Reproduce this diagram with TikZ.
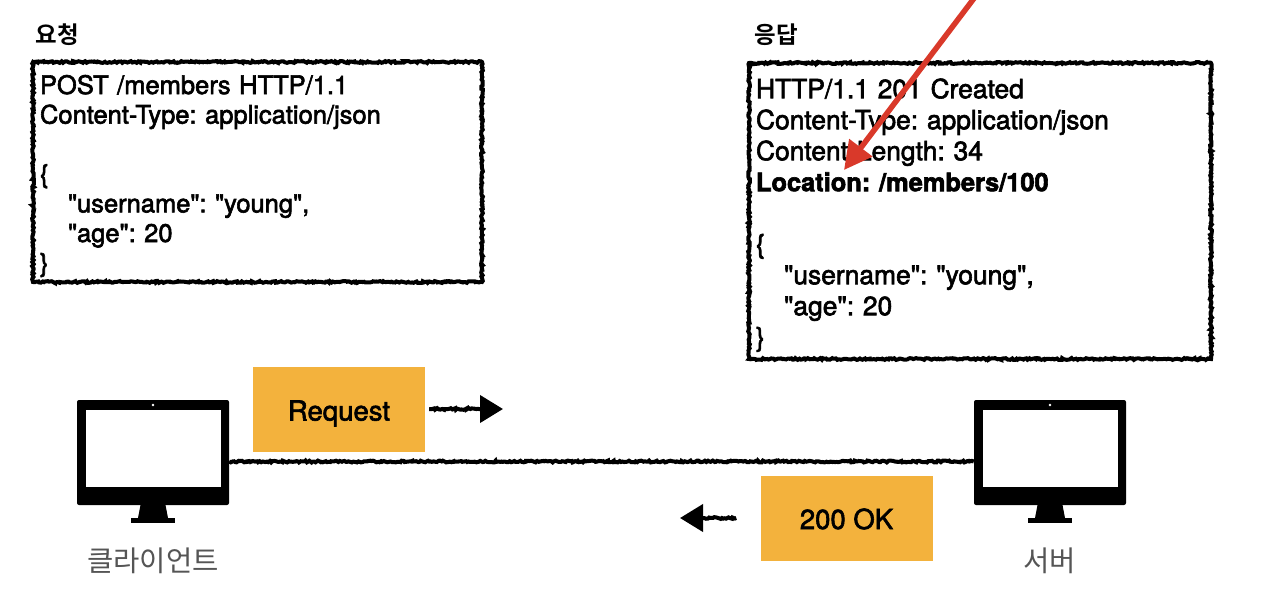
\documentclass[tikz,border=0pt]{standalone}
\usepackage{fontspec}
\usepackage{xcolor}
\newfontfamily\bodyfont{TeX Gyre Heros}
\newfontfamily\krfont{Noto Sans CJK KR}
\newfontfamily\krbold{Noto Sans CJK KR Bold}
\newfontfamily\boldfont{TeX Gyre Heros Bold}
\newcommand{\heavy}{\special{pdf:code 2 Tr 0.6 w}}
\usetikzlibrary{arrows.meta, positioning, decorations.pathmorphing}
\definecolor{msgorange}{HTML}{F3B23D}
\definecolor{arrowred}{HTML}{D9392A}
\definecolor{labelgray}{HTML}{555555}
\tikzset{
    rough/.style={decorate, decoration={random steps, segment length=1.6pt, amplitude=0.9pt}},
    httpbox/.style={rectangle, draw, rough, line width=4pt, anchor=north west, align=left, inner xsep=7pt, inner ysep=0pt},
    msgbox/.style={rectangle, fill=msgorange, minimum width=172pt, minimum height=85pt, text height=24pt, text depth=2pt, font=\fontsize{27.5}{30}\bodyfont},
    title/.style={anchor=west, font=\fontsize{23.5}{26}\krbold},
    devlabel/.style={text=labelgray, font=\fontsize{28.6}{30}\krfont},
    wire/.style={rough, line width=4pt},
    flowarrow/.style={-{Triangle[length=23pt, width=27pt]}, decorate, decoration={random steps, segment length=1.6pt, amplitude=0.9pt, post length=24pt}, line width=4pt},
    monitor/.pic={
        \node[fill=black, rounded corners=2pt, inner sep=0pt, minimum width=152pt, minimum height=105pt] (-body) at (0,0) {};
        \fill[white] (-67.5,-42.5) rectangle (67.5,34.5);
        \fill[white] (0,-47.5) circle (1.3pt);
        \fill[black] (-12.5,52.5) -- (12.5,52.5) -- (15,65.5) -- (-15,65.5) -- cycle;
        \fill[black] (-22,65.5) rectangle (22,70.5);
    },
}
\begin{document}
\begin{tikzpicture}[x=1pt, y=-1pt]
    \useasboundingbox (0,0) rectangle (1280,603);

    % request and response
    \node[httpbox, font=\fontsize{25.5}{29.6}\bodyfont\frenchspacing, text width=435pt, minimum height=220pt] (reqbox) at (31,60) {%
        \heavy\rule{0pt}{27pt}POST /members HTTP/1.1\\
        Content-Type: application/json\\
        \mbox{}\\
        \{\\
        \hspace*{28pt}"username": "young",\\
        \hspace*{28pt}"age": 20\\
        \}};
    \node[httpbox, font=\fontsize{26.4}{31}\bodyfont\frenchspacing, text width=448pt, minimum height=296pt] (resbox) at (747,61) {%
        \heavy\rule{0pt}{28pt}HTTP/1.1 201 Created\\
        Content-Type: application/json\\
        Content-Length: 34\\
        {\fontsize{25.4}{31}\boldfont Location: /members/100}\\
        \mbox{}\\
        \{\\
        \hspace*{28pt}"username": "young",\\
        \hspace*{28pt}"age": 20\\
        \}};

    \node[title] (reqtitle) at (32,35) {요청};
    \node[title] (restitle) at (751,35) {응답};

    % client and server
    \pic (client) at (153,452.5) {monitor};
    \pic (server) at (1050,452.5) {monitor};
    \node[devlabel] (clientlabel) at (153,561) {클라이언트};
    \node[devlabel] (serverlabel) at (1049.5,561) {서버};

    \node[msgbox] (request) at (339,409.5) {\heavy Request};
    \node[msgbox] (okbox) at (846.5,518) {\heavy 200 OK};

    \draw[wire] (client-body.east |- 0,461.5) -- (server-body.west |- 0,461.5);

    \coordinate (reqend) at (503,409);
    \coordinate (okend) at (680,518);
    \draw[flowarrow] (request.east |- reqend) ++(4,0) -- (reqend);
    \draw[flowarrow] (okbox.west |- okend) ++(-24,0) -- (okend);

    % red pointer
    \coordinate (redstart) at (975,-3);
    \coordinate (redend) at (844,170);
    \draw[-{Triangle[length=28pt, width=28pt]}, arrowred, line width=5.5pt] (redstart) -- (redend);
\end{tikzpicture}
\end{document}
